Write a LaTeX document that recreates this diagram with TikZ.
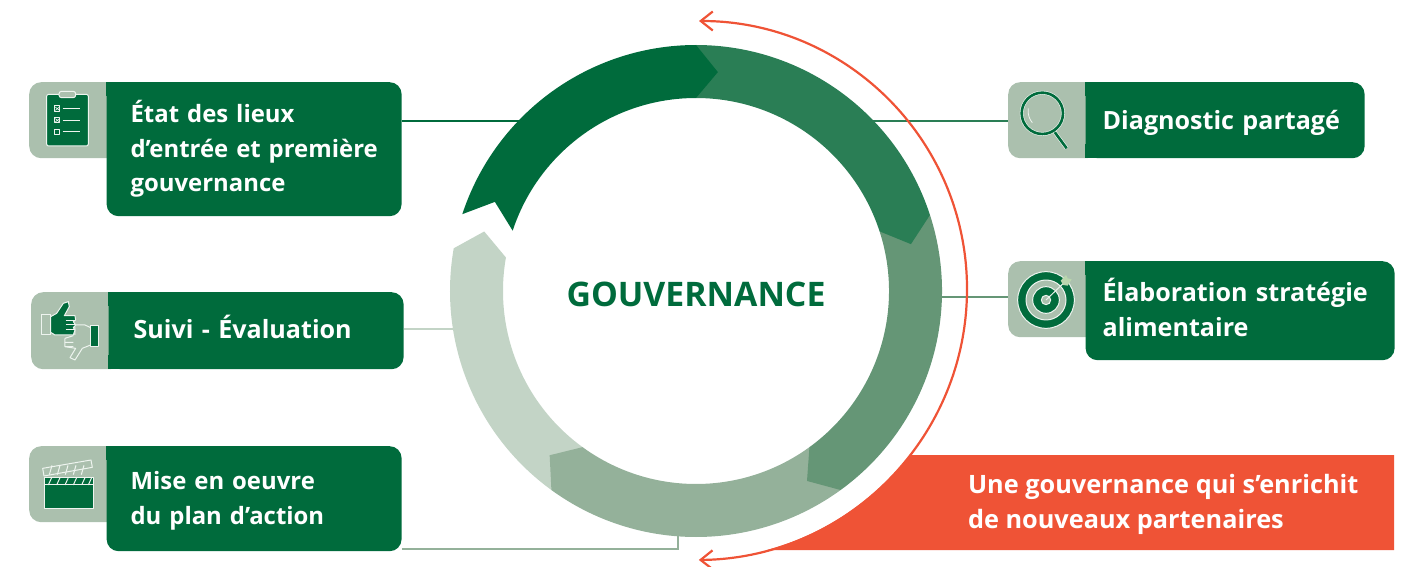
\documentclass[tikz,border=0pt]{standalone}
\usepackage{fontspec}
\setmainfont{Open Sans}
\usetikzlibrary{arrows.meta,positioning}
\definecolor{boxgreen}{HTML}{006B3C}
\definecolor{icongreen}{HTML}{ABC0AE}
\definecolor{ringB}{HTML}{2A7E55}
\definecolor{ringC}{HTML}{659676}
\definecolor{ringD}{HTML}{94B19A}
\definecolor{ringE}{HTML}{C3D4C6}
\definecolor{redfill}{HTML}{EF5336}
\definecolor{iconline}{HTML}{EEF4EF}
\definecolor{fletch}{HTML}{BBD6AE}
\tikzset{
    iconbox/.style ={
        shape=rectangle,
        fill=icongreen,
        rounded corners=12pt,
        inner sep=0pt,
        minimum width=91pt,
        minimum height=76pt
    },
    greenbox/.style ={
        shape=rectangle,
        fill=boxgreen,
        text=white,
        rounded corners=12pt,
        anchor=north west,
        xshift=-14pt,
        align=left,
        font=\fontsize{25.1}{35}\selectfont\bfseries
    },
    smalltext/.style ={
        font=\fontsize{23.9}{34.5}\selectfont\bfseries
    },
    link/.style ={
        line width=2.5pt
    },
    redline/.style ={
        draw=redfill,
        line width=2.2pt,
        {Straight Barb[length=12pt,width=19pt]}-{Straight Barb[length=12pt,width=19pt]}
    },
    iconstroke/.style ={
        draw=iconline,
        line width=1pt,
        line join=round
    },
    iconscale/.style ={
        x=0.3333pt,
        y=-0.3333pt
    }
}

\begin{document}
\begin{tikzpicture}[x=1pt,y=1pt]
    \useasboundingbox (0,0) rectangle (1410,566);

    % boxes on the left
    \node[iconbox,anchor=north west] (stateIcon) at (29,484) {};
    \node[greenbox,smalltext,at=(stateIcon.north east),minimum height=134pt,text width=247pt,inner xsep=24pt] (stateBox) {État des lieux\\\mbox{d’entrée et première}\\gouvernance};
    \node[iconbox,anchor=north west,minimum height=77pt] (followIcon) at (31,274) {};
    \node[greenbox,at=(followIcon.north east),minimum height=77pt,text width=245pt,inner xsep=25pt,text height=21pt,text depth=5pt] (followBox) {Suivi - Évaluation};
    \node[iconbox,anchor=north west] (planIcon) at (29,120) {};
    \node[greenbox,smalltext,at=(planIcon.north east),minimum height=105pt,text width=247pt,inner xsep=24pt] (planBox) {\vphantom{É}Mise en oeuvre\\du plan d’action};

    % boxes on the right
    \node[iconbox,anchor=north west] (diagIcon) at (1008,484) {};
    \node[greenbox,at=(diagIcon.north east),minimum height=76pt,text width=245pt,inner xsep=17pt,text height=23pt,text depth=5pt] (diagBox) {Diagnostic partagé};
    \node[iconbox,anchor=north west] (foodIcon) at (1008,305) {};
    \node[greenbox,at=(foodIcon.north east),minimum height=99pt,text width=275pt,inner xsep=17pt] (foodBox) {Élaboration stratégie\\alimentaire\vphantom{g}};

    % square corners where a box meets its icon
    \foreach \boxname in {stateBox,followBox,planBox,diagBox,foodBox}
        \fill[boxgreen] (\boxname.north west) rectangle +(14,-14);
    \foreach \boxname in {followBox,diagBox}
        \fill[boxgreen] (\boxname.south west) rectangle +(14,14);

    % connectors, their inner ends lie under the ring
    \coordinate (ringA) at (530,445);
    \coordinate (ringB) at (870,445);
    \coordinate (ringC) at (935,269);
    \coordinate (ringD) at (678,40);
    \coordinate (ringE) at (460,237);
    \draw[link,boxgreen] (stateBox.east |- ringA) -- (ringA);
    \draw[link,ringB] (ringB) -- (ringB -| diagIcon.west);
    \draw[link,ringC] (ringC) -- (ringC -| foodIcon.west);
    \draw[link,ringE] (followBox.east |- ringE) -- (ringE);
    \draw[link,ringD] (planBox.east |- 0,17) -- (ringD |- 0,17) -- (ringD);

    % the ring
    \begin{scope}[shift={(696,275)}]
        \foreach \segcol/\segfrom/\segto/\segnotch in {ringE/234/170/0,ringD/-54/-126/0,ringC/18/-54/0,ringB/90/18/0,boxgreen/161.8/90/5.7}
            \fill[\segcol] (\segfrom:246) arc[start angle=\segfrom,end angle=\segto,radius=246]
                -- (\segto-5.7:220) -- (\segto:193)
                arc[start angle=\segto,end angle=\segfrom,radius=193]
                -- (\segfrom-\segnotch:220) -- cycle;
    \end{scope}
    \node[text=boxgreen,font=\fontsize{33.8}{38}\selectfont\bfseries] (ringLabel) at (696,272) {GOUVERNANCE};

    % red panel and arrow
    \fill[redfill] (909.8,111) arc[start angle=-37.9,end angle=-74.8,radius=271] -- (1394,16) -- (1394,111) -- cycle;
    \node[anchor=west,text=white,align=left,font=\fontsize{25.3}{35}\selectfont\bfseries] (redLabel) at (964.5,62) {Une gouvernance qui s’enrichit\\de nouveaux partenaires};
    \coordinate (redTop) at (699,545);
    \draw[redline] (redTop) arc[start angle=90,end angle=0,radius=268] arc[start angle=0,end angle=-89.4,radius=271];

    % clipboard
    \begin{scope}[shift={(20,496)},iconscale]
        \draw[iconstroke,fill=boxgreen,rounded corners=2pt] (80,73) rectangle (205,228);
        \draw[iconstroke,fill=icongreen,rounded corners=2.5pt] (117,64) rectangle (167,83);
        \foreach \rowy in {116,151,186} {
            \draw[iconstroke] (103,\rowy-8) rectangle (120,\rowy+8);
            \draw[iconstroke] (128,\rowy) -- (180,\rowy);
        }
        \foreach \rowy in {116,151}
            \draw[iconstroke,line width=0.6pt] (106,\rowy-5) -- (118,\rowy+5) (106,\rowy+5) -- (118,\rowy-5);
    \end{scope}

    % thumbs
    \begin{scope}[shift={(20,281)},iconscale]
        \draw[iconstroke] (212,128) -- (195,120) -- (160,120) (135,160) -- (135,172) -- (135,185) -- (167,190) -- (150,218) -- (165,225) -- (187,190) -- (212,180);
        \draw[iconstroke] (160,152) -- (135,160) (135,172) -- (160,172) (135,185) -- (160,185) (165,150) -- (165,125);
        \draw[iconstroke,fill=boxgreen] (212,123) rectangle (237,185);
        \draw[iconstroke,fill=icongreen] (65,88) rectangle (92,150);
        \draw[iconstroke,fill=boxgreen] (92,95) -- (110,85) -- (130,55) -- (145,50) -- (148,65) -- (133,92) -- (165,92) -- (167,105) -- (160,110) -- (167,120) -- (160,128) -- (165,135) -- (160,150) -- (105,150) -- (92,142) -- cycle;
        \draw[iconstroke] (137,106) -- (165,106) (137,120) -- (165,120) (137,134) -- (165,134);
    \end{scope}

    % clapper
    \begin{scope}[shift={(20,126)},iconscale]
        \draw[iconstroke,fill=boxgreen] (73,112) rectangle (220,205);
        \draw[iconstroke] (73,135) -- (220,135);
        \foreach \stripx in {85,110,135,160,185,205}
            \draw[iconstroke] (\stripx,135) -- (\stripx+10,113);
        \draw[iconstroke] (68,85) -- (213,60) -- (217,82) -- (72,108) -- cycle;
        \foreach \stripx in {88,112,136,160,184}
            \draw[iconstroke] (\stripx,104) -- (\stripx+8,76);
    \end{scope}

    % magnifier
    \begin{scope}[shift={(1000,496)},iconscale]
        \draw[iconline,line width=3.8pt] (163,185) -- (200,235);
        \draw[boxgreen,line width=2.6pt] (163,185) -- (200,235);
        \draw[iconline,line width=3.8pt] (127,130) circle[radius=62];
        \draw[boxgreen,line width=2.6pt] (127,130) circle[radius=62];
        \draw[iconline,line width=0.8pt] (85,115) .. controls (82,135) and (90,150) .. (97,158);
    \end{scope}

    % target
    \begin{scope}[shift={(1000,316)},iconscale]
        \draw[iconstroke,fill=boxgreen] (138,150) circle[radius=85];
        \draw[iconstroke,fill=icongreen] (138,150) circle[radius=60];
        \draw[iconstroke,fill=boxgreen] (138,150) circle[radius=40];
        \draw[iconstroke,fill=icongreen] (138,150) circle[radius=14];
        \draw[iconstroke] (138,150) -- (190,100);
        \fill[fletch] (182,92) -- (198,75) -- (203,85) -- (215,88) -- (203,107) -- (190,105) -- cycle;
    \end{scope}
\end{tikzpicture}
\end{document}
